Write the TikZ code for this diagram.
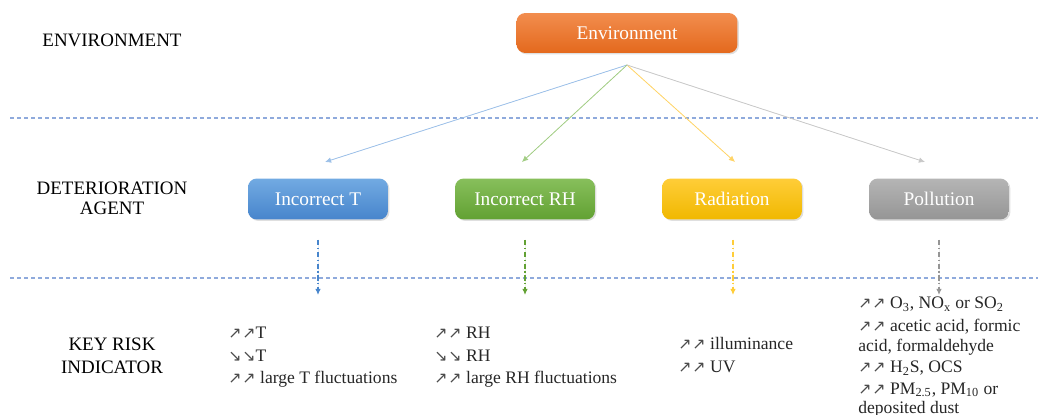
\documentclass[tikz,border=0pt]{standalone}
\usepackage{fontspec}
\setmainfont{Liberation Serif}
\newfontfamily\arrowfont{DejaVu Sans}
\usetikzlibrary{shadows,arrows.meta}
\definecolor{envtop}{HTML}{F28D4E}
\definecolor{envbot}{HTML}{E4691D}
\definecolor{ttop}{HTML}{72AAE2}
\definecolor{tbot}{HTML}{4785CC}
\definecolor{rhtop}{HTML}{87BF5C}
\definecolor{rhbot}{HTML}{62A133}
\definecolor{radtop}{HTML}{FFCD38}
\definecolor{radbot}{HTML}{F0B800}
\definecolor{poltop}{HTML}{B5B5B5}
\definecolor{polbot}{HTML}{959595}
\definecolor{linkblue}{HTML}{9CC0E8}
\definecolor{linkgreen}{HTML}{A2CD84}
\definecolor{linkyellow}{HTML}{FFD467}
\definecolor{linkgray}{HTML}{C8C8C8}
\definecolor{sepcolor}{HTML}{8FAADC}
\colorlet{kritext}{black!85}
\newcommand{\incr}{{\arrowfont\fontsize{9}{9}\selectfont\color{black!70}\char"2197\kern0.5pt\char"2197}}
\newcommand{\decr}{{\arrowfont\fontsize{9}{9}\selectfont\color{black!70}\char"2198\kern0.5pt\char"2198}}
\tikzstyle{layerlabel} = [
    align=center,
    font=\fontsize{10.8}{11.5}\selectfont
    ]
\tikzstyle{agentbox} = [
    rectangle,
    rounded corners=5pt,
    minimum width=2.8cm,
    minimum height=0.82cm,
    text=white,
    font=\fontsize{11}{12}\selectfont,
    drop shadow={shadow xshift=0.8pt, shadow yshift=-0.8pt, opacity=0.25}
    ]
\tikzstyle{envbox} = [
    agentbox,
    minimum width=4.42cm,
    minimum height=0.8cm
    ]
\tikzstyle{separator} = [
    draw=sepcolor,
    line width=0.6pt,
    dash pattern=on 2.3pt off 1.7pt
    ]
\tikzstyle{fanline} = [
    line width=0.45pt,
    -{Latex[length=3.5pt,width=3.2pt]}
    ]
\tikzstyle{dropline} = [
    line width=0.7pt,
    dash pattern=on 3pt off 1.5pt on 0.7pt off 1.5pt,
    -{Latex[length=3.5pt,width=3.2pt]}
    ]
\tikzstyle{kri} = [
    align=left,
    anchor=north west,
    inner sep=0pt,
    text=kritext,
    font=\fontsize{10}{12.8}\selectfont
    ]

\begin{document}
\begin{tikzpicture}[x=0.02cm,y=-0.02cm]
\useasboundingbox (0,0) rectangle (1038,415);
% layer separators
\draw[separator] (10,118) -- (1038,118);
\draw[separator] (10,278) -- (1038,278);
% layer names
\node[layerlabel] (lenv) at (112,40) {ENVIRONMENT};
\node[layerlabel] (lagent) at (112,198) {DETERIORATION\\AGENT};
\node[layerlabel, font=\fontsize{10.8}{13}\selectfont] (lkri) at (112,356) {KEY RISK\\INDICATOR};
% environment
\node[envbox, top color=envtop, bottom color=envbot] (env) at (627,33) {Environment};
\coordinate (hub) at (627,65);
% deterioration agents
\node[agentbox, top color=ttop, bottom color=tbot] (T) at (318,199) {Incorrect T};
\node[agentbox, top color=rhtop, bottom color=rhbot] (RH) at (525,199) {Incorrect RH};
\node[agentbox, top color=radtop, bottom color=radbot] (Rad) at (732,199) {Radiation};
\node[agentbox, top color=poltop, bottom color=polbot] (Pol) at (939,199) {Pollution};
\coordinate (tipT) at (325,162);
\coordinate (tipRH) at (522,162);
\coordinate (tipRad) at (735,162);
\coordinate (tipPol) at (925,162);
\foreach \a/\c in {T/linkblue, RH/linkgreen, Rad/linkyellow, Pol/linkgray}
    \draw[fanline, draw=\c, fill=\c] (hub) -- (tip\a);
% down to the indicators
\foreach \a/\x/\c in {T/318/tbot, RH/525/rhbot, Rad/733/radtop, Pol/939/polbot}{
    \coordinate (top\a) at (\x,240);
    \coordinate (bot\a) at (\x,295);
    \draw[dropline, draw=\c, fill=\c] (top\a) -- (bot\a);
}
% key risk indicators
\node[kri] (kriT) at (228,327) {\incr T\\\decr T\\\incr{} large T fluctuations};
\node[kri] (kriRH) at (434,327) {\incr{} RH\\\decr{} RH\\\incr{} large RH fluctuations};
\node[kri, font=\fontsize{10}{13}\selectfont] (kriRad) at (678,337) {\incr{} illuminance\\\incr{} UV};
\node[kri, font=\fontsize{10}{11}\selectfont] (kriPol) at (858,297) {%
    \incr{} O\textsubscript{3}, NO\textsubscript{x} or SO\textsubscript{2}\\[2pt]
    \incr{} acetic acid, formic\\acid, formaldehyde\\[1.2pt]
    \incr{} H\textsubscript{2}S, OCS\\[1.2pt]
    \incr{} PM\textsubscript{2.5}, PM\textsubscript{10} or\\deposited dust};
\end{tikzpicture}
\end{document}
